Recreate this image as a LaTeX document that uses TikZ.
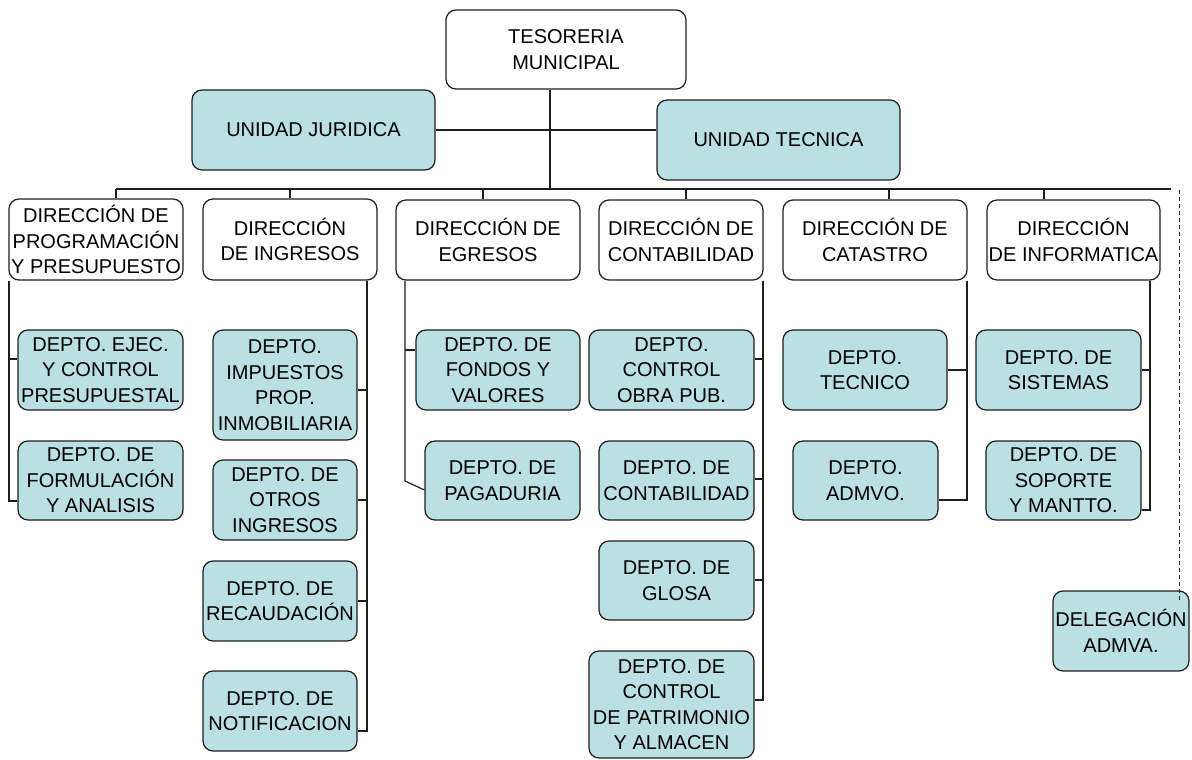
\documentclass[tikz,border=0pt]{standalone}
\usepackage{fontspec}
\setmainfont{Liberation Sans}
\newcommand{\boxfont}{\fontsize{20}{25.5}\selectfont}
\definecolor{boxfill}{RGB}{186,224,227}
\definecolor{edge}{RGB}{30,30,30}
\tikzset{
  orgbox/.style={draw=edge, line width=1.2pt, rounded corners=10pt, align=center, inner sep=0pt, font=\boxfont, fill=white},
  deptbox/.style={orgbox, fill=boxfill},
  conn/.style={draw=edge, line width=1.2pt},
  dotconn/.style={draw=edge, line width=1pt, dash pattern=on 4pt off 3pt}
}
\begin{document}
\begin{tikzpicture}[x=1pt,y=-1pt]
\useasboundingbox (0,0) rectangle (1192,760);
% top level
\node[orgbox, minimum width=240, minimum height=79] (top) at (566,49.5) {TESORERIA\\MUNICIPAL};
\node[deptbox, minimum width=243, minimum height=80] (jur) at (313.5,130) {UNIDAD JURIDICA};
\node[deptbox, minimum width=243, minimum height=80] (tec) at (778.5,140) {UNIDAD TECNICA};
% directions
\node[orgbox, minimum width=174, minimum height=81] (p1) at (96,239.5) {DIRECCIÓN DE\\PROGRAMACIÓN\\Y PRESUPUESTO};
\node[orgbox, minimum width=174, minimum height=81] (p2) at (290,239.5) {DIRECCIÓN\\DE INGRESOS};
\node[orgbox, minimum width=184, minimum height=80] (p3) at (488,240) {DIRECCIÓN DE\\EGRESOS};
\node[orgbox, minimum width=164, minimum height=80] (p4) at (681,240) {DIRECCIÓN DE\\CONTABILIDAD};
\node[orgbox, minimum width=184, minimum height=80] (p5) at (875,240) {DIRECCIÓN DE\\CATASTRO};
\node[orgbox, minimum width=173, minimum height=80] (p6) at (1073.5,240) {DIRECCIÓN\\DE INFORMATICA};
% departments
\node[deptbox, minimum width=165, minimum height=80] (c11) at (100.5,370) {DEPTO. EJEC.\\Y CONTROL\\PRESUPUESTAL};
\node[deptbox, minimum width=165, minimum height=79] (c12) at (100.5,480.5) {DEPTO. DE\\FORMULACIÓN\\Y ANALISIS};
\node[deptbox, minimum width=144, minimum height=110] (c21) at (285,385) {DEPTO.\\IMPUESTOS\\PROP.\\INMOBILIARIA};
\node[deptbox, minimum width=144, minimum height=80] (c22) at (285,500) {DEPTO. DE\\OTROS\\INGRESOS};
\node[deptbox, minimum width=154, minimum height=80] (c23) at (280,601) {DEPTO. DE\\RECAUDACIÓN};
\node[deptbox, minimum width=154, minimum height=80] (c24) at (280,711) {DEPTO. DE\\NOTIFICACION};
\node[deptbox, minimum width=164, minimum height=80] (c31) at (498,370) {DEPTO. DE\\FONDOS Y\\VALORES};
\node[deptbox, minimum width=155, minimum height=79] (c32) at (502.5,480.5) {DEPTO. DE\\PAGADURIA};
\node[deptbox, minimum width=165, minimum height=80] (c41) at (671.5,370) {DEPTO.\\CONTROL\\OBRA PUB.};
\node[deptbox, minimum width=155, minimum height=79] (c42) at (676.5,480.5) {DEPTO. DE\\CONTABILIDAD};
\node[deptbox, minimum width=155, minimum height=79] (c43) at (676.5,580.5) {DEPTO. DE\\GLOSA};
\node[deptbox, minimum width=165, minimum height=107] (c44) at (671.5,704.5) {DEPTO. DE\\CONTROL\\DE PATRIMONIO\\Y ALMACEN};
\node[deptbox, minimum width=164, minimum height=80] (c51) at (865,370) {DEPTO.\\TECNICO};
\node[deptbox, minimum width=145, minimum height=79] (c52) at (865.5,480.5) {DEPTO.\\ADMVO.};
\node[deptbox, minimum width=165, minimum height=80] (c61) at (1058.5,370) {DEPTO. DE\\SISTEMAS};
\node[deptbox, minimum width=155, minimum height=79] (c62) at (1063.5,480.5) {DEPTO. DE\\SOPORTE\\Y MANTTO.};
\node[deptbox, minimum width=136, minimum height=80] (del) at (1121,631) {DELEGACIÓN\\ADMVA.};
% bus coordinates
\coordinate (tx) at (550,0);
\coordinate (busL) at (116,189);
\coordinate (busR) at (1171,189);
\coordinate (d2) at (290,189);
\coordinate (d3) at (483,189);
\coordinate (d4) at (686,189);
\coordinate (d5) at (889,189);
\coordinate (d6) at (1044,189);
% top connectors
\draw[conn] (top.south -| tx) -- (busL -| tx);
\draw[conn] (jur.east) -- (jur.east -| tec.west);
\draw[conn] (busL) -- (busR);
\draw[conn] (busL) -- (p1.north -| busL);
\draw[conn] (d2) -- (p2.north -| d2);
\draw[conn] (d3) -- (p3.north -| d3);
\draw[conn] (d4) -- (p4.north -| d4);
\draw[conn] (d5) -- (p5.north -| d5);
\draw[conn] (d6) -- (p6.north -| d6);
% column 1
\coordinate (v1) at (9,0);
\draw[conn] (p1.south -| v1) -- (v1 |- 0,501) -- (c12.west |- 0,501);
\draw[conn] (v1 |- 0,359) -- (c11.west |- 0,359);
% column 2
\coordinate (v2) at (367,0);
\draw[conn] (p2.south -| v2) -- (v2 |- 0,731) -- (c24.east |- 0,731);
\draw[conn] (v2 |- 0,390) -- (c21.east |- 0,390);
\draw[conn] (v2 |- 0,500) -- (c22.east |- 0,500);
\draw[conn] (v2 |- 0,601) -- (c23.east |- 0,601);
% column 3
\coordinate (v3) at (405,0);
\draw[conn] (p3.south -| v3) -- (v3 |- 0,481) -- (c32.west |- 0,490);
\draw[conn] (v3 |- 0,350) -- (c31.west |- 0,350);
% column 4
\coordinate (v4) at (763,0);
\draw[conn] (p4.south -| v4) -- (v4 |- 0,700) -- (c44.east |- 0,700);
\draw[conn] (v4 |- 0,359) -- (c41.east |- 0,359);
\draw[conn] (v4 |- 0,479) -- (c42.east |- 0,479);
\draw[conn] (v4 |- 0,580) -- (c43.east |- 0,580);
% column 5
\coordinate (v5) at (967,0);
\draw[conn] (p5.south -| v5) -- (v5 |- 0,500) -- (c52.east |- 0,500);
\draw[conn] (v5 |- 0,370) -- (c51.east |- 0,370);
% column 6
\coordinate (v6) at (1150,0);
\draw[conn] (p6.south -| v6) -- (v6 |- 0,510) -- (c62.east |- 0,510);
\draw[conn] (v6 |- 0,370) -- (c61.east |- 0,370);
% dashed link to delegation
\coordinate (dl) at (1179,190);
\draw[dotconn] (dl) -- (dl |- 0,600);
\end{tikzpicture}
\end{document}
